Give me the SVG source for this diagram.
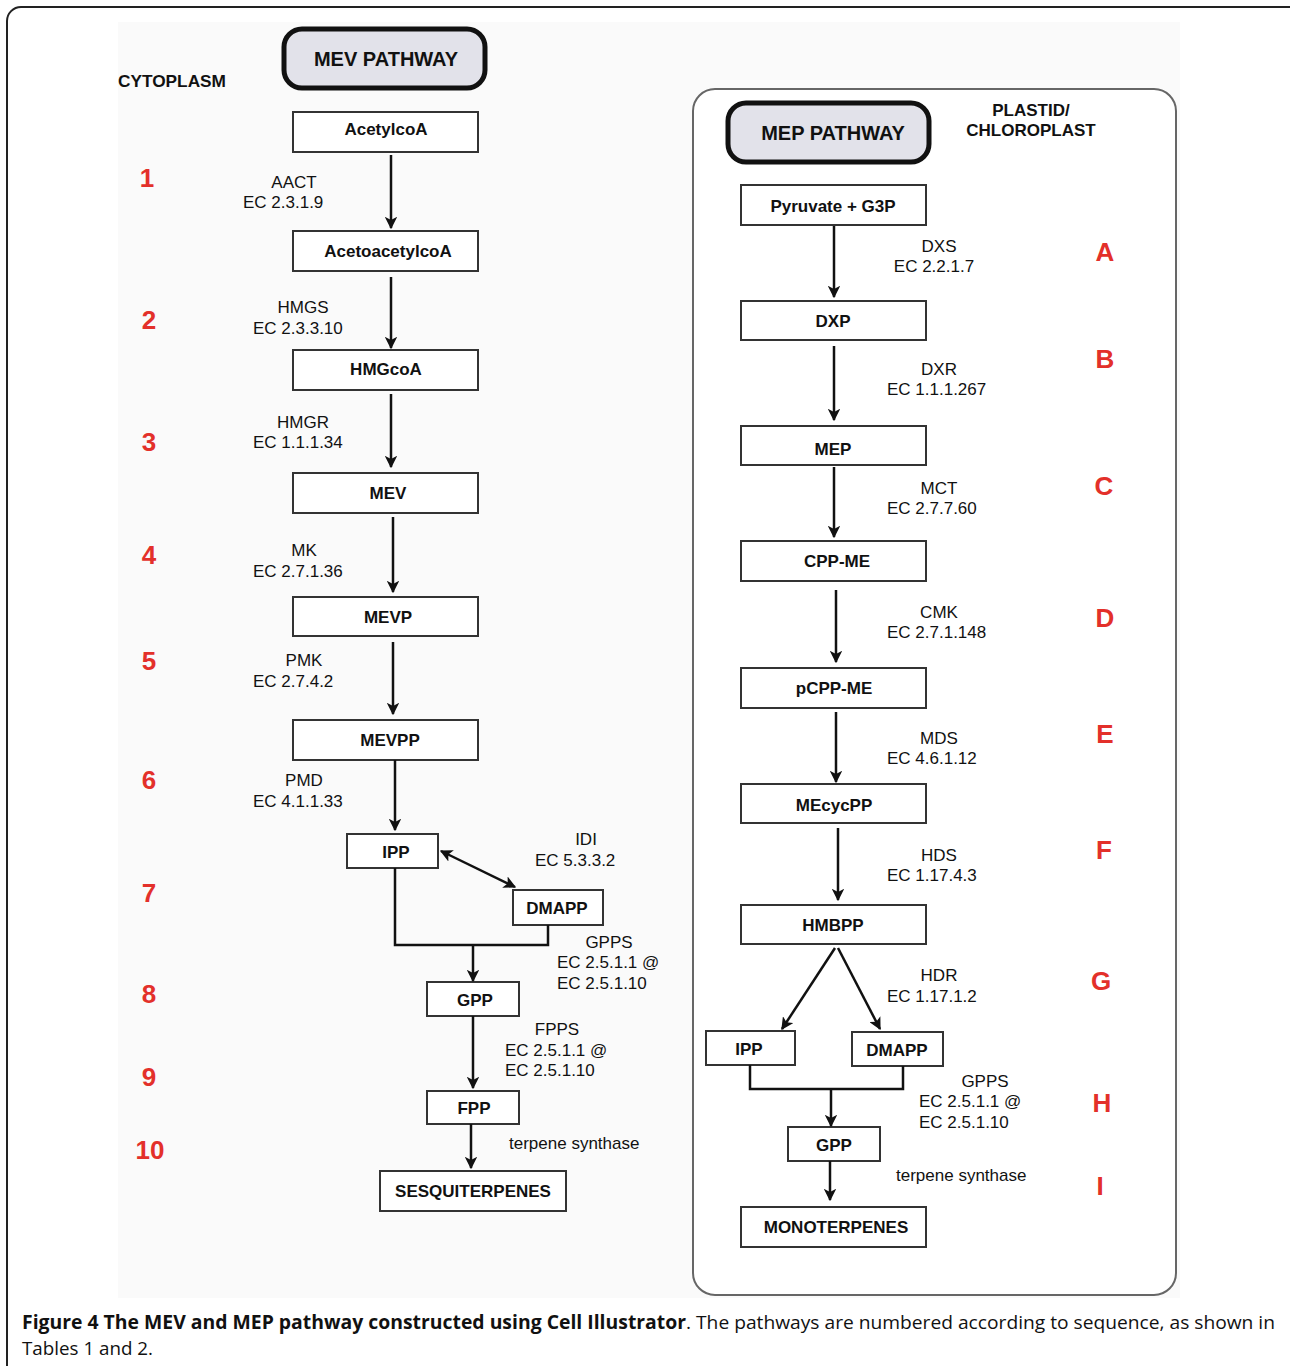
<svg xmlns="http://www.w3.org/2000/svg" width="1290" height="1366" viewBox="0 0 1290 1366">
<style>
.box{fill:#fff;stroke:#333;stroke-width:2}
.pw{fill:#e2e2ea;stroke:#111;stroke-width:5}
.bt{font-family:"Liberation Sans",Arial,sans-serif;font-weight:bold;font-size:17px;fill:#111;text-anchor:middle}
.pt{font-family:"Liberation Sans",Arial,sans-serif;font-weight:bold;font-size:20px;fill:#111;text-anchor:middle}
.hd{font-family:"Liberation Sans",Arial,sans-serif;font-weight:bold;font-size:17px;fill:#111}
.en{font-family:"Liberation Sans",Arial,sans-serif;font-size:17px;fill:#111}
.num{font-family:"Liberation Sans",Arial,sans-serif;font-weight:bold;font-size:26px;fill:#e3302a;text-anchor:middle}
.cap{font-family:"Open Sans","Noto Sans",sans-serif;font-size:19px;fill:#111}
.ln{fill:none;stroke:#111;stroke-width:2.5}
.ar{fill:none;stroke:#111;stroke-width:2.5;marker-end:url(#ah)}
</style>
<defs>
<marker id="ah" viewBox="0 0 10 10" refX="9" refY="5" markerWidth="5" markerHeight="5" orient="auto-start-reverse" markerUnits="strokeWidth">
<path d="M0,0 L10,5 L0,10 L2.5,5 z" fill="#111"/>
</marker>
</defs>
<rect width="1290" height="1366" fill="#fff"/>
<rect x="118" y="22" width="1062" height="1276" fill="#fafafa"/>
<rect x="7" y="7" width="1300" height="1420" rx="14" fill="none" stroke="#222" stroke-width="2"/>

<g id="mep-compartment">
<rect x="693" y="89" width="483" height="1206" rx="22" fill="#fff" stroke="#666" stroke-width="2"/>
</g>

<g id="labels">
<text class="hd" x="118" y="87" textLength="108" lengthAdjust="spacingAndGlyphs">CYTOPLASM</text>
<text class="hd" x="1031" y="116" text-anchor="middle">PLASTID/</text>
<text class="hd" x="1031" y="136" text-anchor="middle">CHLOROPLAST</text>
</g>

<g id="mev-pathway"><rect class="pw" x="284" y="29" width="201" height="59" rx="18"/><text class="pt" x="386" y="66">MEV PATHWAY</text></g>
<g id="mep-pathway"><rect class="pw" x="728" y="103" width="201" height="59" rx="18"/><text class="pt" x="833" y="140">MEP PATHWAY</text></g>

<g id="acetylcoa"><rect class="box" x="293" y="112" width="185" height="40"/><text class="bt" x="386" y="135">AcetylcoA</text></g>
<g id="acetoacetylcoa"><rect class="box" x="293" y="231" width="185" height="40"/><text class="bt" x="388" y="257">AcetoacetylcoA</text></g>
<g id="hmgcoa"><rect class="box" x="293" y="350" width="185" height="40"/><text class="bt" x="386" y="375">HMGcoA</text></g>
<g id="mev"><rect class="box" x="293" y="473" width="185" height="40"/><text class="bt" x="388" y="499">MEV</text></g>
<g id="mevp"><rect class="box" x="293" y="597" width="185" height="39"/><text class="bt" x="388" y="623">MEVP</text></g>
<g id="mevpp"><rect class="box" x="293" y="720" width="185" height="40"/><text class="bt" x="390" y="746">MEVPP</text></g>
<g id="ipp-mev"><rect class="box" x="347" y="834" width="91" height="34"/><text class="bt" x="396" y="858">IPP</text></g>
<g id="dmapp-mev"><rect class="box" x="513" y="890" width="90" height="35"/><text class="bt" x="557" y="914">DMAPP</text></g>
<g id="gpp-mev"><rect class="box" x="427" y="982" width="92" height="34"/><text class="bt" x="475" y="1006">GPP</text></g>
<g id="fpp"><rect class="box" x="427" y="1091" width="92" height="33"/><text class="bt" x="474" y="1114">FPP</text></g>
<g id="sesquiterpenes"><rect class="box" x="380" y="1171" width="186" height="40"/><text class="bt" x="473" y="1197">SESQUITERPENES</text></g>

<g id="pyruvate-g3p"><rect class="box" x="741" y="185" width="185" height="40"/><text class="bt" x="833" y="212">Pyruvate + G3P</text></g>
<g id="dxp"><rect class="box" x="741" y="301" width="185" height="39"/><text class="bt" x="833" y="327">DXP</text></g>
<g id="mep"><rect class="box" x="741" y="426" width="185" height="39"/><text class="bt" x="833" y="455">MEP</text></g>
<g id="cpp-me"><rect class="box" x="741" y="541" width="185" height="40"/><text class="bt" x="837" y="567">CPP-ME</text></g>
<g id="pcpp-me"><rect class="box" x="741" y="668" width="185" height="40"/><text class="bt" x="834" y="694">pCPP-ME</text></g>
<g id="mecycpp"><rect class="box" x="741" y="784" width="185" height="39"/><text class="bt" x="834" y="811">MEcycPP</text></g>
<g id="hmbpp"><rect class="box" x="741" y="905" width="185" height="39"/><text class="bt" x="833" y="931">HMBPP</text></g>
<g id="ipp-mep"><rect class="box" x="706" y="1031" width="89" height="34"/><text class="bt" x="749" y="1055">IPP</text></g>
<g id="dmapp-mep"><rect class="box" x="852" y="1032" width="91" height="34"/><text class="bt" x="897" y="1056">DMAPP</text></g>
<g id="gpp-mep"><rect class="box" x="788" y="1127" width="92" height="34"/><text class="bt" x="834" y="1151">GPP</text></g>
<g id="monoterpenes"><rect class="box" x="741" y="1207" width="185" height="40"/><text class="bt" x="836" y="1233">MONOTERPENES</text></g>

<g id="connectors">
<path class="ar" d="M391,155 V228"/>
<path class="ar" d="M391,277 V348"/>
<path class="ar" d="M391,394 V467"/>
<path class="ar" d="M393,517 V592"/>
<path class="ar" d="M393,642 V714"/>
<path class="ar" d="M395,760 V830"/>
<path class="ar" d="M515,887 L441,851" style="marker-start:url(#ah)"/>
<path class="ln" d="M395,868 V945 H548 V925"/>
<path class="ar" d="M473,945 V981"/>
<path class="ar" d="M473,1016 V1088"/>
<path class="ar" d="M471,1124 V1168"/>

<path class="ar" d="M834,226 V297"/>
<path class="ar" d="M834,346 V420"/>
<path class="ar" d="M834,467 V537"/>
<path class="ar" d="M836,590 V662"/>
<path class="ar" d="M836,712 V782"/>
<path class="ar" d="M838,828 V900"/>
<path class="ar" d="M835,948 L782,1029"/>
<path class="ar" d="M838,948 L880,1029"/>
<path class="ln" d="M750,1065 V1089 H903 V1066"/>
<path class="ar" d="M831,1089 V1126"/>
<path class="ar" d="M830,1161 V1200"/>
</g>

<g id="enzymes-mev">
<text class="en" x="294" y="188" text-anchor="middle">AACT</text>
<text class="en" x="243" y="208">EC 2.3.1.9</text>
<text class="en" x="303" y="313" text-anchor="middle">HMGS</text>
<text class="en" x="253" y="334">EC 2.3.3.10</text>
<text class="en" x="303" y="428" text-anchor="middle">HMGR</text>
<text class="en" x="253" y="448">EC 1.1.1.34</text>
<text class="en" x="304" y="556" text-anchor="middle">MK</text>
<text class="en" x="253" y="577">EC 2.7.1.36</text>
<text class="en" x="304" y="666" text-anchor="middle">PMK</text>
<text class="en" x="253" y="687">EC 2.7.4.2</text>
<text class="en" x="304" y="786" text-anchor="middle">PMD</text>
<text class="en" x="253" y="807">EC 4.1.1.33</text>
<text class="en" x="586" y="845" text-anchor="middle">IDI</text>
<text class="en" x="535" y="866">EC 5.3.3.2</text>
<text class="en" x="609" y="948" text-anchor="middle">GPPS</text>
<text class="en" x="557" y="968">EC 2.5.1.1 @</text>
<text class="en" x="557" y="989">EC 2.5.1.10</text>
<text class="en" x="557" y="1035" text-anchor="middle">FPPS</text>
<text class="en" x="505" y="1056">EC 2.5.1.1 @</text>
<text class="en" x="505" y="1076">EC 2.5.1.10</text>
<text class="en" x="509" y="1149">terpene synthase</text>
</g>

<g id="enzymes-mep">
<text class="en" x="939" y="252" text-anchor="middle">DXS</text>
<text class="en" x="934" y="272" text-anchor="middle">EC 2.2.1.7</text>
<text class="en" x="939" y="375" text-anchor="middle">DXR</text>
<text class="en" x="887" y="395">EC 1.1.1.267</text>
<text class="en" x="939" y="494" text-anchor="middle">MCT</text>
<text class="en" x="887" y="514">EC 2.7.7.60</text>
<text class="en" x="939" y="618" text-anchor="middle">CMK</text>
<text class="en" x="887" y="638">EC 2.7.1.148</text>
<text class="en" x="939" y="744" text-anchor="middle">MDS</text>
<text class="en" x="887" y="764">EC 4.6.1.12</text>
<text class="en" x="939" y="861" text-anchor="middle">HDS</text>
<text class="en" x="887" y="881">EC 1.17.4.3</text>
<text class="en" x="939" y="981" text-anchor="middle">HDR</text>
<text class="en" x="887" y="1002">EC 1.17.1.2</text>
<text class="en" x="985" y="1087" text-anchor="middle">GPPS</text>
<text class="en" x="919" y="1107">EC 2.5.1.1 @</text>
<text class="en" x="919" y="1128">EC 2.5.1.10</text>
<text class="en" x="896" y="1181">terpene synthase</text>
</g>

<g id="step-numbers">
<text class="num" x="147" y="187">1</text>
<text class="num" x="149" y="329">2</text>
<text class="num" x="149" y="451">3</text>
<text class="num" x="149" y="564">4</text>
<text class="num" x="149" y="670">5</text>
<text class="num" x="149" y="789">6</text>
<text class="num" x="149" y="902">7</text>
<text class="num" x="149" y="1003">8</text>
<text class="num" x="149" y="1086">9</text>
<text class="num" x="150" y="1159">10</text>
<text class="num" x="1105" y="261">A</text>
<text class="num" x="1105" y="368">B</text>
<text class="num" x="1104" y="495">C</text>
<text class="num" x="1105" y="627">D</text>
<text class="num" x="1105" y="743">E</text>
<text class="num" x="1104" y="859">F</text>
<text class="num" x="1101" y="990">G</text>
<text class="num" x="1102" y="1112">H</text>
<text class="num" x="1100" y="1195">I</text>
</g>

<g id="caption">
<text class="cap" x="22" y="1329"><tspan font-weight="bold" textLength="664" lengthAdjust="spacingAndGlyphs">Figure 4 The MEV and MEP pathway constructed using Cell Illustrator</tspan><tspan textLength="589" lengthAdjust="spacingAndGlyphs">. The pathways are numbered according to sequence, as shown in</tspan></text>
<text class="cap" x="22" y="1355" textLength="131" lengthAdjust="spacingAndGlyphs">Tables 1 and 2.</text>
</g>
</svg>
